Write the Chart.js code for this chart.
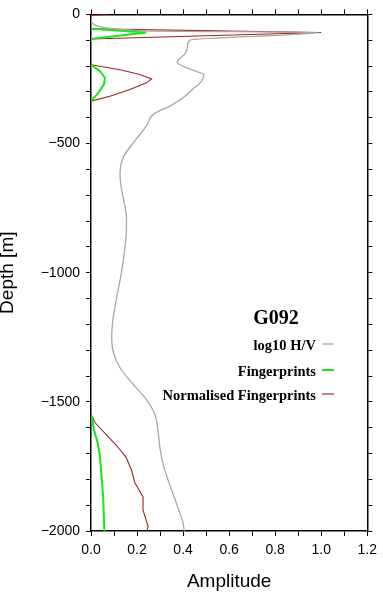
<!DOCTYPE html>
<html>
<head>
<meta charset="utf-8">
<script src="https://cdn.jsdelivr.net/npm/chart.js@4"></script>
<style>
  html, body { margin: 0; padding: 0; background: #fff; }
  #wrap { width: 383px; height: 598px; }
</style>
</head>
<body>
<div id="wrap"><canvas id="grafico"></canvas></div>
<script>
// log10 H/V (grey)
const hvDepth = [-31, -64, -70, -99, -118, -150, -176, -186, -201, -220, -233, -259, -291, -323, -355, -387, -432, -490, -554, -612, -663, -727, -790, -850, -906, -996, -1100, -1190, -1250, -1304, -1368, -1432, -1490, -1547, -1611, -1676, -1740, -1804, -1893, -1970, -2000];
const hvAmp   = [0.0, 0.23, 0.99, 0.43, 0.42, 0.41, 0.38, 0.375, 0.40, 0.455, 0.49, 0.48, 0.44, 0.40, 0.342, 0.27, 0.241, 0.19, 0.14, 0.126, 0.13, 0.144, 0.154, 0.153, 0.147, 0.133, 0.111, 0.094, 0.090, 0.096, 0.126, 0.183, 0.24, 0.277, 0.291, 0.299, 0.313, 0.335, 0.371, 0.40, 0.405];

// Fingerprints (green), null = gap
const fpDepth = [-56, -70, -95, null, -195, -220, -246, -272, -304, -336, null, -1547, -1611, -1662, -1714, -1800, -1870, -2000];
const fpAmp   = [0, 0.24, 0, null, 0, 0.039, 0.061, 0.056, 0.032, 0, null, 0, 0.014, 0.030, 0.039, 0.047, 0.053, 0.058];

// Normalised Fingerprints (dark red)
const nfpDepth = [0, -3, null, -56, -70, -95, null, -195, -214, -233, -250, -265, -291, -317, -336, null, -1547, -1580, -1669, -1714, -1765, -1812, -1868, -1919, -1983, -2000];
const nfpAmp   = [0.07, 0, null, 0, 1.0, 0, null, 0, 0.126, 0.212, 0.263, 0.241, 0.169, 0.082, 0, null, 0, 0.017, 0.111, 0.152, 0.176, 0.19, 0.226, 0.226, 0.248, 0.242];

const stationName = 'G092';

function pontos(depths, amps) {
    return depths.map((d, i) => ({ x: amps[i], y: d }));
}

const tickFont = { family: 'Liberation Sans, Arial, sans-serif', size: 14 };
const gridOpts = { drawOnChartArea: false, drawTicks: true, tickLength: 5, color: '#000', lineWidth: 1 };
const borderOpts = { color: '#000', width: 1.5 };

// legenda desenhada dentro do gráfico
const legendaPlugin = {
    id: 'legendaG092',
    afterDraw(chart) {
        const ctx = chart.ctx;
        ctx.save();
        ctx.fillStyle = '#000';
        ctx.font = 'bold 20px "Liberation Serif", "Times New Roman", serif';
        ctx.textAlign = 'center';
        ctx.textBaseline = 'alphabetic';
        ctx.fillText(stationName, 276, 324);

        ctx.font = 'bold 14.5px "Liberation Serif", "Times New Roman", serif';
        ctx.textAlign = 'right';
        const baselines = [350, 376, 400];
        chart.data.datasets.forEach((ds, i) => {
            const yb = baselines[i];
            ctx.fillStyle = '#000';
            ctx.fillText(ds.label, 316, yb);
            ctx.strokeStyle = ds.borderColor;
            ctx.lineWidth = ds.borderWidth;
            ctx.beginPath();
            ctx.moveTo(322, yb - 6);
            ctx.lineTo(334, yb - 6);
            ctx.stroke();
        });
        ctx.restore();
    }
};

const ctx = document.getElementById('grafico').getContext('2d');

new Chart(ctx, {
    type: 'scatter',
    data: {
        datasets: [
            {
                label: 'log10 H/V',
                data: pontos(hvDepth, hvAmp),
                showLine: true,
                indexAxis: 'y',
                cubicInterpolationMode: 'monotone',
                borderColor: '#a8a8a8',
                borderWidth: 1.3,
                pointRadius: 0,
                spanGaps: false
            },
            {
                label: 'Fingerprints',
                data: pontos(fpDepth, fpAmp),
                showLine: true,
                borderColor: '#19e619',
                borderWidth: 2,
                pointRadius: 0,
                spanGaps: false
            },
            {
                label: 'Normalised Fingerprints',
                data: pontos(nfpDepth, nfpAmp),
                showLine: true,
                borderColor: '#9e2424',
                borderWidth: 1.1,
                pointRadius: 0,
                spanGaps: false
            }
        ]
    },
    options: {
        responsive: true,
        maintainAspectRatio: false,
        animation: false,
        layout: { padding: 0 },
        plugins: {
            legend: { display: false },
            tooltip: { enabled: false }
        },
        scales: {
            x: {
                type: 'linear',
                position: 'bottom',
                min: 0,
                max: 1.2,
                grid: gridOpts,
                border: borderOpts,
                ticks: {
                    stepSize: 0.1,
                    padding: 6,
                    color: '#000',
                    font: tickFont,
                    maxRotation: 0,
                    autoSkip: false,
                    callback: v => (Math.round(v * 10) % 2 === 0 ? v.toFixed(1) : '')
                },
                title: {
                    display: true,
                    text: 'Amplitude',
                    color: '#000',
                    font: { family: 'Liberation Sans, Arial, sans-serif', size: 19 },
                    padding: { top: 0, bottom: 5 }
                },
                afterFit: s => { s.height = 67; }
            },
            x2: {
                type: 'linear',
                position: 'top',
                min: 0,
                max: 1.2,
                grid: gridOpts,
                border: borderOpts,
                ticks: { stepSize: 0.1, autoSkip: false, maxRotation: 0, callback: () => '' },
                afterFit: s => { s.height = 11; }
            },
            y: {
                type: 'linear',
                position: 'left',
                min: -2000,
                max: 0,
                grid: gridOpts,
                border: borderOpts,
                ticks: {
                    stepSize: 100,
                    padding: 6,
                    color: '#000',
                    font: tickFont,
                    autoSkip: false,
                    callback: v => (v % 500 === 0 ? (v < 0 ? '\u2212' + Math.abs(v) : String(v)) : '')
                },
                title: {
                    display: true,
                    text: 'Depth [m]',
                    color: '#000',
                    font: { family: 'Liberation Sans, Arial, sans-serif', size: 19, lineHeight: 0.85 },
                    padding: 0
                },
                afterFit: s => { s.width = 91; }
            },
            y2: {
                type: 'linear',
                position: 'right',
                min: -2000,
                max: 0,
                grid: gridOpts,
                border: borderOpts,
                ticks: { stepSize: 100, autoSkip: false, callback: () => '' },
                afterFit: s => { s.width = 15; }
            }
        }
    },
    plugins: [legendaPlugin]
});
</script>
</body>
</html>
